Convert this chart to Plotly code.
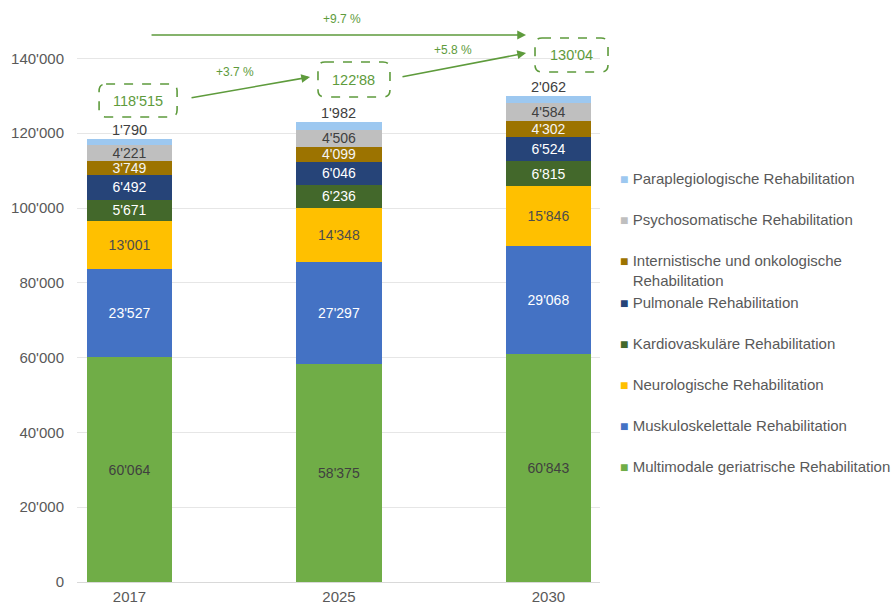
import plotly.graph_objects as go

years = ["2017", "2025", "2030"]
series_names = [
    "Multimodale geriatrische Rehabilitation",
    "Muskuloskelettale Rehabilitation",
    "Neurologische Rehabilitation",
    "Kardiovaskuläre Rehabilitation",
    "Pulmonale Rehabilitation",
    "Internistische und onkologische<br>Rehabilitation",
    "Psychosomatische Rehabilitation",
    "Paraplegiologische Rehabilitation",
]
multimodale = [60064, 58375, 60843]
muskulo = [23527, 27297, 29068]
neuro = [13001, 14348, 15846]
kardio = [5671, 6236, 6815]
pulmonale = [6492, 6046, 6524]
internist = [3749, 4099, 4302]
psycho = [4221, 4506, 4584]
paraplegio = [1790, 1982, 2062]
series_values = [multimodale, muskulo, neuro, kardio, pulmonale, internist, psycho, paraplegio]

total_labels = ["118'515", "122'88", "130'04"]
growth_labels = ["+3.7 %", "+5.8 %", "+9.7 %"]
y_ticks = [0, 20000, 40000, 60000, 80000, 100000, 120000, 140000]

colors = ["#70AD47", "#4472C4", "#FFC000", "#43682B", "#264478", "#9C7300", "#BFBFBF", "#9DC8F0"]
text_colors = ["#404040", "#FFFFFF", "#4D4D4D", "#FFFFFF", "#FFFFFF", "#F5F5F5", "#404040", "#404040"]

FONT = "Liberation Sans, Arial, sans-serif"
GREEN = "#5E9B3C"
GREY = "#595959"

# plot geometry (pixels)
W, H = 893, 606
ML, MR, MT, MB = 77, 293, 5, 24
X_RANGE = [-0.2506, 2.246]
Y_RANGE = [0, 154280]
PW, PH = W - ML - MR, H - MT - MB


def data_to_paper(x, y):
    px = (x - X_RANGE[0]) / (X_RANGE[1] - X_RANGE[0])
    py = (y - Y_RANGE[0]) / (Y_RANGE[1] - Y_RANGE[0])
    return px, py


fig = go.Figure()
for i, (name, vals) in enumerate(zip(series_names, series_values)):
    is_top = i == len(series_names) - 1
    fig.add_trace(go.Bar(
        x=years, y=vals, name=name,
        marker=dict(color=colors[i], line=dict(width=0)),
        text=None if is_top else vals,
        texttemplate=None if is_top else "%{y:,}",
        textposition="none" if is_top else "inside",
        insidetextanchor="middle",
        textangle=0,
        constraintext="none",
        textfont=dict(family=FONT, size=14, color=text_colors[i]),
        width=0.406,
        showlegend=False,
        hoverinfo="skip",
    ))

# legend entries (small square symbols placed in text)
legend_groups = {7: "a", 6: "b", 5: "c", 4: "c", 3: "d", 2: "e", 1: "f", 0: "g"}
for i in range(len(series_names) - 1, -1, -1):
    sq = f'<span style="font-size:14px;color:{colors[i]}">■</span> '
    pad = '<span style="font-size:14px;color:#FFFFFF">■</span> '
    label = sq + series_names[i].replace("<br>", "<br>" + pad)
    fig.add_trace(go.Scatter(
        x=[None], y=[None], mode="markers", name=label,
        marker=dict(size=1, color="rgba(0,0,0,0)"),
        legendgroup=legend_groups[i], showlegend=True, hoverinfo="skip",
    ))

totals = [sum(v[j] for v in series_values) for j in range(len(years))]

annotations = []
for j, yr in enumerate(years):
    annotations.append(dict(
        x=j, y=totals[j], xref="x", yref="y", text=f"{paraplegio[j]:,}".replace(",", "'"),
        showarrow=False, yanchor="bottom", yshift=-1,
        font=dict(family=FONT, size=14.5, color="#404040"),
    ))

# dashed rounded boxes around totals
box_centers = [(0.041, 128740), (1.0716, 134360), (2.110, 140910)]
box_sizes_px = [(78, 33), (72, 35), (73, 34)]
R = 7
shapes = []
for j, (bx, by) in enumerate(box_centers):
    cx, cy = data_to_paper(bx, by)
    cxp, cyp = ML + cx * PW, MT + (1 - cy) * PH
    w, h = box_sizes_px[j]
    x0, x1 = cxp - w / 2, cxp + w / 2
    y0, y1 = cyp - h / 2, cyp + h / 2

    def P(px, py):
        return f"{(px - ML) / PW:.5f},{1 - (py - MT) / PH:.5f}"

    path = (f"M {P(x0 + R, y0)} L {P(x1 - R, y0)} Q {P(x1, y0)} {P(x1, y0 + R)} "
            f"L {P(x1, y1 - R)} Q {P(x1, y1)} {P(x1 - R, y1)} "
            f"L {P(x0 + R, y1)} Q {P(x0, y1)} {P(x0, y1 - R)} "
            f"L {P(x0, y0 + R)} Q {P(x0, y0)} {P(x0 + R, y0)} Z")
    shapes.append(dict(type="path", xref="paper", yref="paper", path=path,
                       line=dict(color=GREEN, width=1.6, dash="dash")))
    annotations.append(dict(
        x=bx, y=by, xref="x", yref="y", text=total_labels[j], showarrow=False,
        font=dict(family=FONT, size=14.5, color=GREEN),
    ))

arrows = [
    ((0.289, 129410), (0.862, 135030)),
    ((1.296, 135030), (1.893, 141440)),
    ((0.098, 146260), (1.893, 146260)),
]
for (x0, y0), (x1, y1) in arrows:
    annotations.append(dict(
        x=x1, y=y1, ax=x0, ay=y0, xref="x", yref="y", axref="x", ayref="y",
        text="", showarrow=True, arrowhead=2, arrowsize=1.1, arrowwidth=1.6,
        arrowcolor=GREEN,
    ))

growth_pos = [(0.504, 136360), (1.544, 142250), (1.014, 150530)]
for (gx, gy), t in zip(growth_pos, growth_labels):
    annotations.append(dict(
        x=gx, y=gy, xref="x", yref="y", text=t, showarrow=False,
        font=dict(family=FONT, size=12, color=GREEN),
    ))

fig.update_layout(
    width=W, height=H,
    barmode="stack",
    separators=".'",
    paper_bgcolor="white", plot_bgcolor="white",
    margin=dict(l=ML, r=MR, t=MT, b=MB, autoexpand=False),
    font=dict(family=FONT, size=15, color=GREY),
    showlegend=True,
    legend=dict(
        x=0.9618, y=0.7280, xanchor="left", yanchor="top",
        traceorder="grouped", tracegroupgap=18.5,
        font=dict(family=FONT, size=15, color=GREY),
        itemwidth=30, itemclick=False, itemdoubleclick=False,
        bgcolor="rgba(0,0,0,0)",
    ),
    xaxis=dict(
        type="category", range=X_RANGE, automargin=False,
        showgrid=False, showline=False, ticks="", ticklabelstandoff=4,
        tickfont=dict(family=FONT, size=15, color=GREY),
    ),
    yaxis=dict(
        range=Y_RANGE, tickvals=y_ticks, tickformat=",", automargin=False,
        showgrid=True, gridcolor="#E6E6E6", gridwidth=1,
        zeroline=True, zerolinecolor="#D9D9D9", zerolinewidth=1,
        showline=False, ticks="", ticklabelstandoff=12,
        tickfont=dict(family=FONT, size=15, color=GREY),
    ),
    annotations=annotations,
    shapes=shapes,
)

fig.write_html("out.html")
